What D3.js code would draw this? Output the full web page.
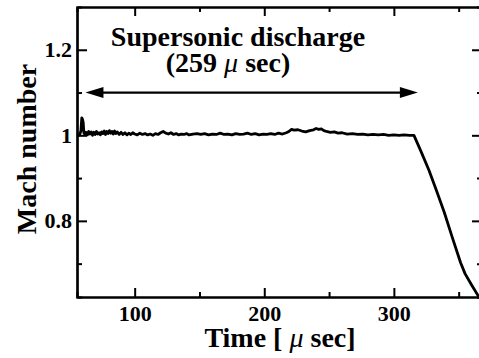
<!DOCTYPE html>
<html lang="en">
<head>
  <meta charset="UTF-8">
  <title>Mach number</title>
  <script src="https://d3js.org/d3.v7.min.js"></script>
  <style>
    body { margin: 0; background: #fff; }
    text { font-family: "Liberation Serif", "Times New Roman", serif; font-weight: bold; fill: #000; }
  </style>
</head>
<body>
  <div id="chart"></div>
  <script>
    // values
    const time = [56, 57.5, 58.5, 59.2, 59.7, 60.3, 60.8, 61.5, 62.5, 63.5, 64.5, 65.5, 66.5, 67.5, 68.5, 69.5, 70.5, 71.5,
      72.5, 73.5, 74.5, 75.5, 76.5, 77.5, 78.5, 79.5, 80.5, 81.5, 82.5, 83.5, 84.5, 85.5, 86.5, 88, 89.5, 91, 92.5, 94,
      95.5, 97, 98.5, 100, 102, 104, 106, 108, 110, 112, 114, 116, 118, 120, 122, 124, 126, 128, 130, 132, 134, 136,
      138, 140, 142, 145, 148, 151, 154, 157, 160, 163, 166, 169, 172, 175, 178, 181, 184, 187, 190, 193, 196, 199,
      202, 205, 208, 211, 214, 217, 219, 221, 223, 226, 229, 232, 235, 238, 240, 242, 244, 246, 248, 251, 254, 257,
      260, 264, 268, 272, 276, 280, 284, 288, 292, 296, 300, 304, 308, 312, 315.5, 321, 327, 333, 339, 345, 351.5,
      355, 360, 366];
    const mach = [1.000, 1.001, 1.010, 1.041, 1.038, 1.030, 1.006, 1.002, 1.007, 1.001, 1.009, 1.003, 1.008, 1.000, 1.007, 1.002, 1.009, 1.003,
      1.006, 1.001, 1.008, 1.004, 1.010, 1.002, 1.009, 1.004, 1.011, 1.005, 1.009, 1.003, 1.010, 1.004, 1.008, 1.002, 1.007, 1.002, 1.006, 1.001,
      1.005, 1.002, 1.006, 1.003, 1.001, 1.005, 1.002, 1.004, 1.001, 1.003, 1.000, 1.004, 1.002, 1.006, 1.009, 1.005, 1.003, 1.006, 1.002, 1.004, 1.001, 1.003,
      1.002, 1.004, 1.001, 1.003, 1.004, 1.002, 1.004, 1.001, 1.003, 1.002, 1.005, 1.002, 1.003, 1.001, 1.004, 1.002, 1.003, 1.005, 1.002, 1.004, 1.001, 1.003,
      1.002, 1.004, 1.002, 1.005, 1.003, 1.006, 1.009, 1.014, 1.012, 1.013, 1.010, 1.008, 1.011, 1.013, 1.016, 1.014, 1.015, 1.011, 1.009, 1.007, 1.008, 1.005,
      1.006, 1.003, 1.004, 1.002, 1.003, 1.001, 1.002, 1.001, 1.002, 1.000, 1.001, 1.000, 1.001, 1.000, 1.000, 0.962, 0.919, 0.870, 0.819, 0.762, 0.702,
      0.676, 0.650, 0.620];

    const xMajor = [100, 200, 300];
    const xMinor = [150, 250, 350];
    const yMajor = [0.8, 1.0, 1.2];
    const yMinor = [0.7, 0.9, 1.1];
    const yLabels = ["0.8", "1", "1.2"];

    const arrowSpan = [62, 318.5];
    const arrowLevel = 1.1;

    const width = 479, height = 358;
    const plot = { left: 77, right: 482, top: 7, bottom: 297 };

    const svg = d3.select("#chart").append("svg")
      .attr("width", width)
      .attr("height", height);

    const x = d3.scaleLinear().domain([55.5, 368]).range([plot.left, plot.right]);
    const y = d3.scaleLinear().domain([0.622, 1.30]).range([plot.bottom, plot.top]);

    function styleAxis(g) {
      g.selectAll("path").attr("stroke", "#000").attr("stroke-width", 2.2);
      g.selectAll("line").attr("stroke", "#000").attr("stroke-width", 2);
    }

    // minor ticks first
    const minorAxes = [
      [d3.axisBottom(x).tickValues(xMinor).tickSize(-5).tickFormat(""), `translate(0,${plot.bottom})`],
      [d3.axisTop(x).tickValues(xMinor).tickSize(-5).tickFormat(""), `translate(0,${plot.top})`],
      [d3.axisLeft(y).tickValues(yMinor).tickSize(-5).tickFormat(""), `translate(${plot.left},0)`],
      [d3.axisRight(y).tickValues(yMinor).tickSize(-5).tickFormat(""), `translate(${plot.right},0)`]
    ];
    minorAxes.forEach(([ax, tr]) => {
      svg.append("g").attr("transform", tr).call(ax).call(styleAxis);
    });

    svg.append("g")
      .attr("transform", `translate(0,${plot.bottom})`)
      .call(d3.axisBottom(x).tickValues(xMajor).tickSize(-9).tickPadding(8).tickSizeOuter(0))
      .call(styleAxis)
      .selectAll("text")
      .attr("font-size", "22px")
      .attr("dy", "0.71em")
      .attr("y", 8);

    svg.append("g")
      .attr("transform", `translate(0,${plot.top})`)
      .call(d3.axisTop(x).tickValues(xMajor).tickSize(-9).tickFormat("").tickSizeOuter(0))
      .call(styleAxis);

    svg.append("g")
      .attr("transform", `translate(${plot.left},0)`)
      .call(d3.axisLeft(y).tickValues(yMajor).tickSize(-10).tickSizeOuter(0)
        .tickFormat((d, i) => yLabels[i]))
      .call(styleAxis)
      .selectAll("text")
      .attr("font-size", "22px")
      .attr("x", -5);

    svg.append("g")
      .attr("transform", `translate(${plot.right},0)`)
      .call(d3.axisRight(y).tickValues(yMajor).tickSize(-10).tickFormat("").tickSizeOuter(0))
      .call(styleAxis);

    svg.selectAll(".domain").attr("fill", "none");

    // data curve
    const line = d3.line()
      .x((d, i) => x(time[i]))
      .y(d => y(d));

    svg.append("path")
      .datum(mach)
      .attr("fill", "none")
      .attr("stroke", "#000")
      .attr("stroke-width", 2.8)
      .attr("stroke-linejoin", "round")
      .attr("d", line);

    // double arrow
    const ay = y(arrowLevel);
    const ax0 = x(arrowSpan[0]), ax1 = x(arrowSpan[1]);
    const headLen = 18, headHalf = 5.5;
    svg.append("line")
      .attr("x1", ax0 + 5).attr("x2", ax1 - 5)
      .attr("y1", ay).attr("y2", ay)
      .attr("stroke", "#000").attr("stroke-width", 2.2);
    svg.append("path")
      .attr("d", `M${ax0},${ay}L${ax0 + headLen},${ay - headHalf}L${ax0 + headLen},${ay + headHalf}Z`)
      .attr("fill", "#000");
    svg.append("path")
      .attr("d", `M${ax1},${ay}L${ax1 - headLen},${ay - headHalf}L${ax1 - headLen},${ay + headHalf}Z`)
      .attr("fill", "#000");

    // annotation
    svg.append("text")
      .attr("x", 238).attr("y", 46)
      .attr("text-anchor", "middle")
      .attr("font-size", "28px")
      .text("Supersonic discharge");

    const sub = svg.append("text")
      .attr("x", 228).attr("y", 72)
      .attr("text-anchor", "middle")
      .attr("font-size", "28px")
      .text("(259 μ sec)");

    // axis titles
    svg.append("text")
      .attr("x", 280).attr("y", 347)
      .attr("text-anchor", "middle")
      .attr("font-size", "28px")
      .text("Time [ μ sec]");

    svg.append("text")
      .attr("transform", "translate(36,149) rotate(-90)")
      .attr("text-anchor", "middle")
      .attr("font-size", "28px")
      .text("Mach number");

    // the greek mu is set in italic, as in the reference
    svg.selectAll("text").filter(function () { return this.textContent.includes("μ"); })
      .each(function () {
        const t = d3.select(this);
        const parts = t.text().split("μ");
        t.text(null);
        t.append("tspan").text(parts[0]);
        t.append("tspan").attr("font-style", "italic").attr("font-weight", "normal").text("μ");
        t.append("tspan").text(parts[1]);
      });
  </script>
</body>
</html>
